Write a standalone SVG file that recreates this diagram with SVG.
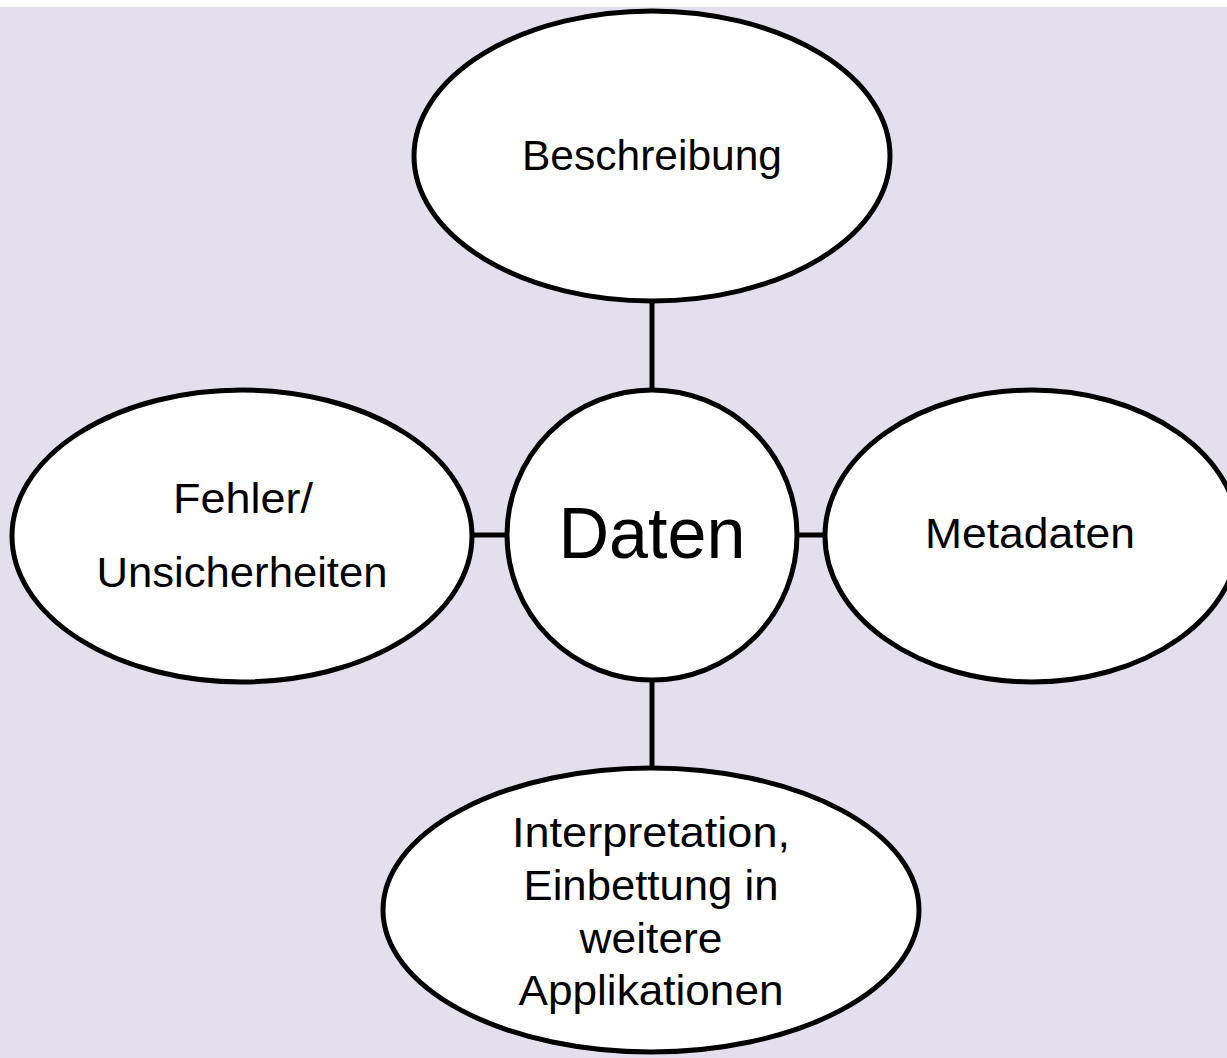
<svg xmlns="http://www.w3.org/2000/svg" width="1227" height="1058" viewBox="0 0 1227 1058">
  <style>
    .node { fill: #ffffff; stroke: #000000; stroke-width: 5; }
    .conn { stroke: #000000; stroke-width: 5; fill: none; }
    .lbl { font-family: "Liberation Sans", Arial, sans-serif; font-size: 43px; fill: #000000; text-anchor: middle; }
    .big { font-size: 73px; }
  </style>
  <rect x="0" y="0" width="1227" height="1058" fill="#ffffff"/>
  <rect x="0" y="7" width="1227" height="1051" fill="#e4dfec"/>
  <g id="connectors">
    <line class="conn" x1="652" y1="300" x2="652" y2="392"/>
    <line class="conn" x1="652" y1="678" x2="652" y2="770"/>
    <line class="conn" x1="471" y1="535" x2="509" y2="535"/>
    <line class="conn" x1="795" y1="535" x2="827" y2="535"/>
  </g>
  <g id="node-beschreibung">
    <ellipse class="node" cx="652" cy="156" rx="238" ry="145"/>
    <text class="lbl" x="652" y="170" textLength="260" lengthAdjust="spacingAndGlyphs">Beschreibung</text>
  </g>
  <g id="node-fehler">
    <ellipse class="node" cx="242" cy="536" rx="230" ry="146"/>
    <text class="lbl" x="243" y="513" textLength="140" lengthAdjust="spacingAndGlyphs">Fehler/</text>
    <text class="lbl" x="242" y="587" textLength="291" lengthAdjust="spacingAndGlyphs">Unsicherheiten</text>
  </g>
  <g id="node-metadaten">
    <ellipse class="node" cx="1032" cy="536" rx="207" ry="146"/>
    <text class="lbl" x="1030" y="548" textLength="210" lengthAdjust="spacingAndGlyphs">Metadaten</text>
  </g>
  <g id="node-interpretation">
    <ellipse class="node" cx="651" cy="910" rx="268" ry="142"/>
    <text class="lbl" x="651" y="847" textLength="278" lengthAdjust="spacingAndGlyphs">Interpretation,</text>
    <text class="lbl" x="651" y="900" textLength="255" lengthAdjust="spacingAndGlyphs">Einbettung in</text>
    <text class="lbl" x="651" y="953" textLength="143" lengthAdjust="spacingAndGlyphs">weitere</text>
    <text class="lbl" x="651" y="1005" textLength="265" lengthAdjust="spacingAndGlyphs">Applikationen</text>
  </g>
  <g id="node-daten">
    <circle class="node" cx="652" cy="535" r="145"/>
    <text class="lbl big" x="652" y="558" textLength="187" lengthAdjust="spacingAndGlyphs">Daten</text>
  </g>
</svg>
